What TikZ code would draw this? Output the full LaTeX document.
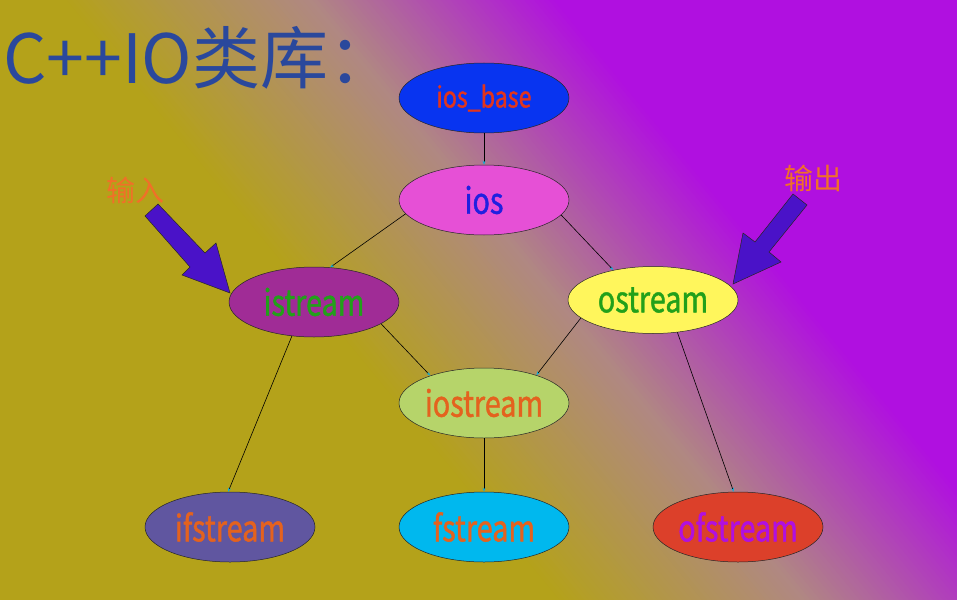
\documentclass[tikz,border=0pt]{standalone}
\usepackage{fontspec}
\setmainfont{Noto Sans CJK SC}
\newfontfamily\clsfont{Noto Sans CJK SC}[FakeStretch=0.8,FakeBold=1.2]
\usetikzlibrary{shapes.geometric,arrows.meta}

\definecolor{bgolive}{RGB}{180,162,26}
\definecolor{bgrose}{RGB}{176,136,130}
\definecolor{bgpurple}{RGB}{176,16,224}
\definecolor{titleblue}{RGB}{42,72,156}
\definecolor{labelorange}{RGB}{240,112,40}
\definecolor{arrowblue}{RGB}{74,18,200}
\definecolor{tipcyan}{RGB}{20,170,210}
\definecolor{txtred}{RGB}{226,52,28}
\definecolor{txtblue}{RGB}{32,32,224}
\definecolor{txtgreen}{RGB}{34,160,26}
\definecolor{txtorange}{RGB}{228,98,30}
\definecolor{txtpurple}{RGB}{176,16,224}

\tikzset{
  cls/.style={ellipse, draw=black!85, line width=0.5pt, minimum width=170pt,
    minimum height=70pt, inner sep=0pt, font=\clsfont\fontsize{36}{40}\selectfont},
  inherit/.style={line width=0.6pt, -{Stealth[length=4pt,width=3pt,color=tipcyan]}},
  bigarrow/.style={fill=arrowblue, draw=black!85, line width=0.5pt},
  cnlabel/.style={text=labelorange, font=\fontsize{29}{32}\selectfont, inner sep=0pt}
}

\begin{document}
\begin{tikzpicture}[x=1pt,y=-1pt]
	\useasboundingbox (0,0) rectangle (957,599);
	%background
	\begin{scope}
		\clip (-2,-2) rectangle (959,601);
		\fill[bgolive] (-2,-2) rectangle (959,601);
		\begin{scope}[rotate=39.4]
			\foreach \i in {0,...,99} {
				\pgfmathtruncatemacro\p{\i<50 ? 2*\i : 2*(\i-50)}
				\pgfmathsetmacro\u{48+3.8*\i}
				\ifnum\i<50
					\colorlet{stripcol}{bgrose!\p!bgolive}
				\else
					\colorlet{stripcol}{bgpurple!\p!bgrose}
				\fi
				\fill[stripcol] (\u,-1400) rectangle (\u+5,1400);
			}
			\fill[bgpurple] (428,-1400) rectangle (1800,1400);
		\end{scope}
	\end{scope}
	
	%title
	\node[anchor=base west, inner sep=0pt, text=titleblue, font=\fontsize{68}{76}\selectfont] (title) at (3,84) {C++IO类库：};
	
	%classes
	\node[cls, fill={rgb,255:red,8;green,52;blue,240}, text=txtred, font=\clsfont\fontsize{29}{32}\selectfont] (iosbase) at (484,98) {ios\_base};
	\node[cls, fill={rgb,255:red,230;green,80;blue,214}, text=txtblue] (ios) at (484,200) {ios};
	\node[cls, fill={rgb,255:red,160;green,44;blue,150}, text=txtgreen] (istream) at (314,302) {istream};
	\node[cls, fill={rgb,255:red,255;green,246;blue,92}, text=txtgreen, minimum height=67pt] (ostream) at (653,300) {ostream};
	\node[cls, fill={rgb,255:red,182;green,212;blue,106}, text=txtorange] (iostream) at (484,403) {iostream};
	\node[cls, fill={rgb,255:red,96;green,86;blue,160}, text=txtorange] (ifstream) at (230,527) {ifstream};
	\node[cls, fill={rgb,255:red,0;green,184;blue,238}, text=txtorange] (fstream) at (484,527) {fstream};
	\node[cls, fill={rgb,255:red,220;green,64;blue,42}, text=txtpurple] (ofstream) at (738,527) {ofstream};
	
	%inheritance
	\draw[inherit] (iosbase.south) -- (ios.north);
	\draw[inherit] (ios.190) -- (istream.65);
	\draw[inherit] (ios.-11) -- (ostream.143);
	\draw[inherit] (istream.-18) -- (iostream.153);
	\draw[inherit] (ostream.194) -- (iostream.28);
	\draw[inherit] (istream.237) -- (ifstream.93);
	\draw[inherit] (iostream.south) -- (fstream.north);
	\draw[inherit] (ostream.-53) -- (ofstream.97);
	
	%input / output
	\node[cnlabel] (inlabel) at (135,190) {输入};
	\node[cnlabel] (outlabel) at (813,178) {输出};
	\draw[bigarrow] (145,216) -- (158,204) -- (205,253) -- (216,243) -- (230,293) -- (182,275) -- (190,267) -- cycle;
	\draw[bigarrow] (793,194) -- (807,205) -- (769,252) -- (781,262) -- (733,284) -- (743,233) -- (755,242) -- cycle;
\end{tikzpicture}
\end{document}
